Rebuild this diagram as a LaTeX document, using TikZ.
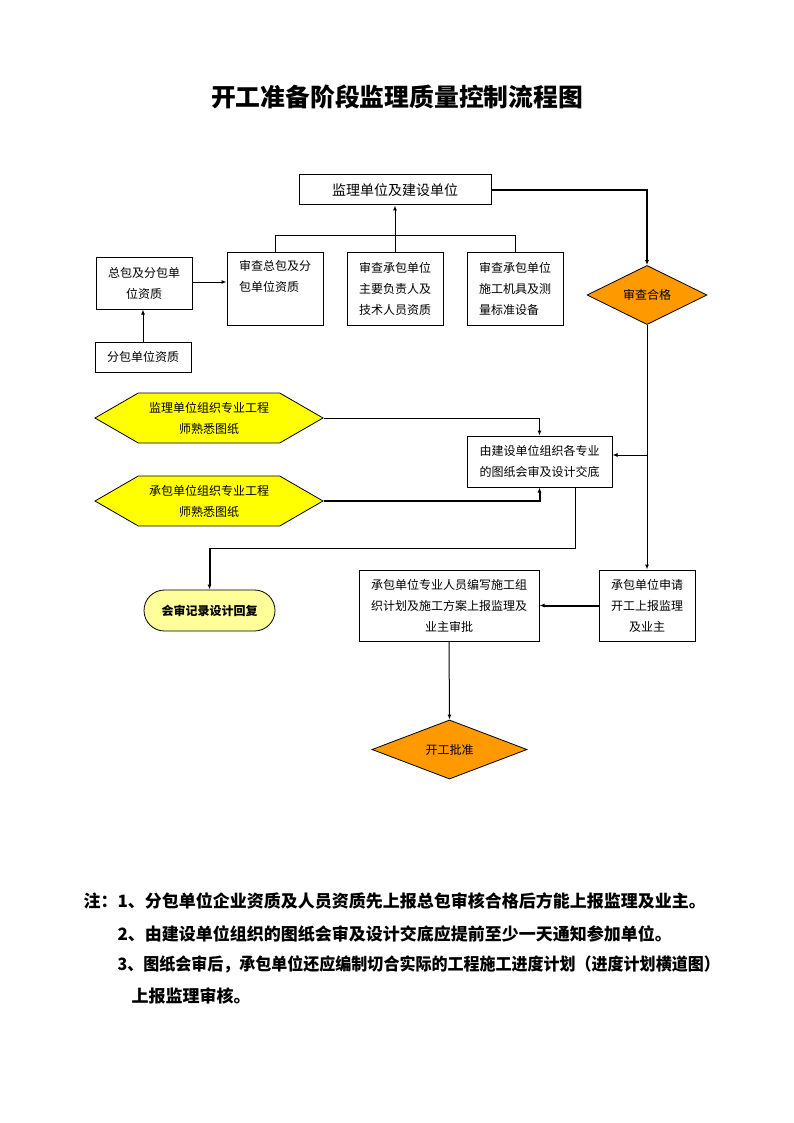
\documentclass[tikz,border=0pt]{standalone}
\usepackage{graphicx}
\usepackage{fontspec}
\newfontfamily\cjk{Noto Sans CJK SC}
\usetikzlibrary{shapes.geometric,shapes.symbols,shapes.misc,arrows.meta}
\definecolor{dorange}{HTML}{FF9900}
\definecolor{dyellow}{HTML}{FFFF00}
\definecolor{lyellow}{HTML}{FFFF99}
\begin{document}
\begin{tikzpicture}[x=1pt,y=-1pt,
  box/.style={draw, line width=1pt, fill=white, inner sep=0pt, align=center,
    font=\cjk\fontsize{12}{21}\selectfont},
  dia/.style={draw, line width=0.8pt, fill=dorange, diamond, inner sep=0pt,
    font=\cjk\fontsize{12}{15}\selectfont},
  hexa/.style={draw, line width=0.8pt, fill=dyellow, signal, signal to=east and west,
    signal pointer angle=60, inner sep=0pt, align=center, minimum width=228pt, minimum height=50pt,
    font=\cjk\fontsize{12}{21}\selectfont},
  ln/.style={line width=1pt},
  arr/.style={line width=1pt, -{Latex[length=5pt,width=4pt]}},
  tarr/.style={line width=2pt, -{Latex[length=5pt,width=4pt]}},
  note/.style={anchor=base west, font=\cjk\bfseries\fontsize{17}{20}\selectfont}]
\useasboundingbox (0,0) rectangle (794,1123);
\fill[white] (0,0) rectangle (794,1123);

\node[font=\cjk\bfseries\fontsize{24.8}{28}\selectfont] (title) at (397,97) {开工准备阶段监理质量控制流程图};

\node[box, minimum width=192pt, minimum height=30pt, font=\cjk\fontsize{14}{16}\selectfont] (A) at (395,190) {监理单位及建设单位};
\node[box, minimum width=96pt, minimum height=52pt] (B) at (144,283) {总包及分包单\\位资质};
\node[box, align=left, minimum width=96pt, minimum height=73pt] (C) at (275,288.5) {审查总包及分\\包单位资质\\[-2pt]\strut};
\node[box, align=left, minimum width=96pt, minimum height=73pt] (D) at (395,288.5) {审查承包单位\\主要负责人及\\技术人员资质};
\node[box, align=left, minimum width=96pt, minimum height=73pt] (E) at (515,288.5) {审查承包单位\\施工机具及测\\量标准设备};
\node[dia, minimum width=120pt, minimum height=50pt] (F) at (647,295) {审查合格};
\node[box, minimum width=96pt, minimum height=30pt] (G) at (143,357) {分包单位资质};

\node[hexa] (I1) at (209,418) {监理单位组织专业工程\\师熟悉图纸};
\node[box, minimum width=145pt, minimum height=51pt] (H) at (539.5,461.5) {由建设单位组织各专业\\的图纸会审及设计交底};
\node[hexa] (I2) at (209,501) {承包单位组织专业工程\\师熟悉图纸};

\node[draw, line width=0.8pt, fill=lyellow, rounded rectangle, minimum width=131pt, minimum height=41pt,
  inner sep=0pt, font=\cjk\bfseries\fontsize{12}{15}\selectfont] (J) at (209.5,610.5) {会审记录设计回复};
\node[box, minimum width=96pt, minimum height=71pt] (K) at (647,605.5) {承包单位申请\\开工上报监理\\及业主};
\node[box, minimum width=180pt, minimum height=71pt] (L) at (449,605.5) {承包单位专业人员编写施工组\\织计划及施工方案上报监理及\\业主审批};
\node[dia, minimum width=155pt, minimum height=55pt] (M) at (449.5,749.5) {开工批准};

% connectors
\draw[tarr] (A.east) -| (F.north);
\draw[ln] (C.north) -- ++(0,-16) -| (E.north);
\draw[arr] (D.north) -- (A.south);
\draw[arr] (B.east |- 0,282) -- (C.west |- 0,282);
\draw[arr] (G.north) -- (G.north |- B.south);
\draw[arr] (F.south) -- (K.north);
\draw[arr] (F.south |- 0,455) -- (H.east |- 0,455);
\draw[arr] (I1.east) -| (H.north);
\draw[tarr] (I2.east) -| (H.south);
\coordinate (bend) at (575,548);
\draw[ln] (H.south -| bend) -- (bend) -- (bend -| J.north);
\draw[tarr] (bend -| J.north) -- (J.north);
\draw[tarr] (K.west) -- (L.east);
\draw[arr] (L.south) -- (M.north);

% notes
\node[note] (n1) at (80,907) {注：1、分包单位企业资质及人员资质先上报总包审核合格后方能上报监理及业主。};
\node[note] (n2) at (114,940) {2、由建设单位组织的图纸会审及设计交底应提前至少一天通知参加单位。};
\node[note] (n3) at (114,970) {\scalebox{0.942}[1]{3、图纸会审后，承包单位还应编制切合实际的工程施工进度计划（进度计划横道图）}};
\node[note] (n4) at (128,1002) {上报监理审核。};
\end{tikzpicture}
\end{document}
